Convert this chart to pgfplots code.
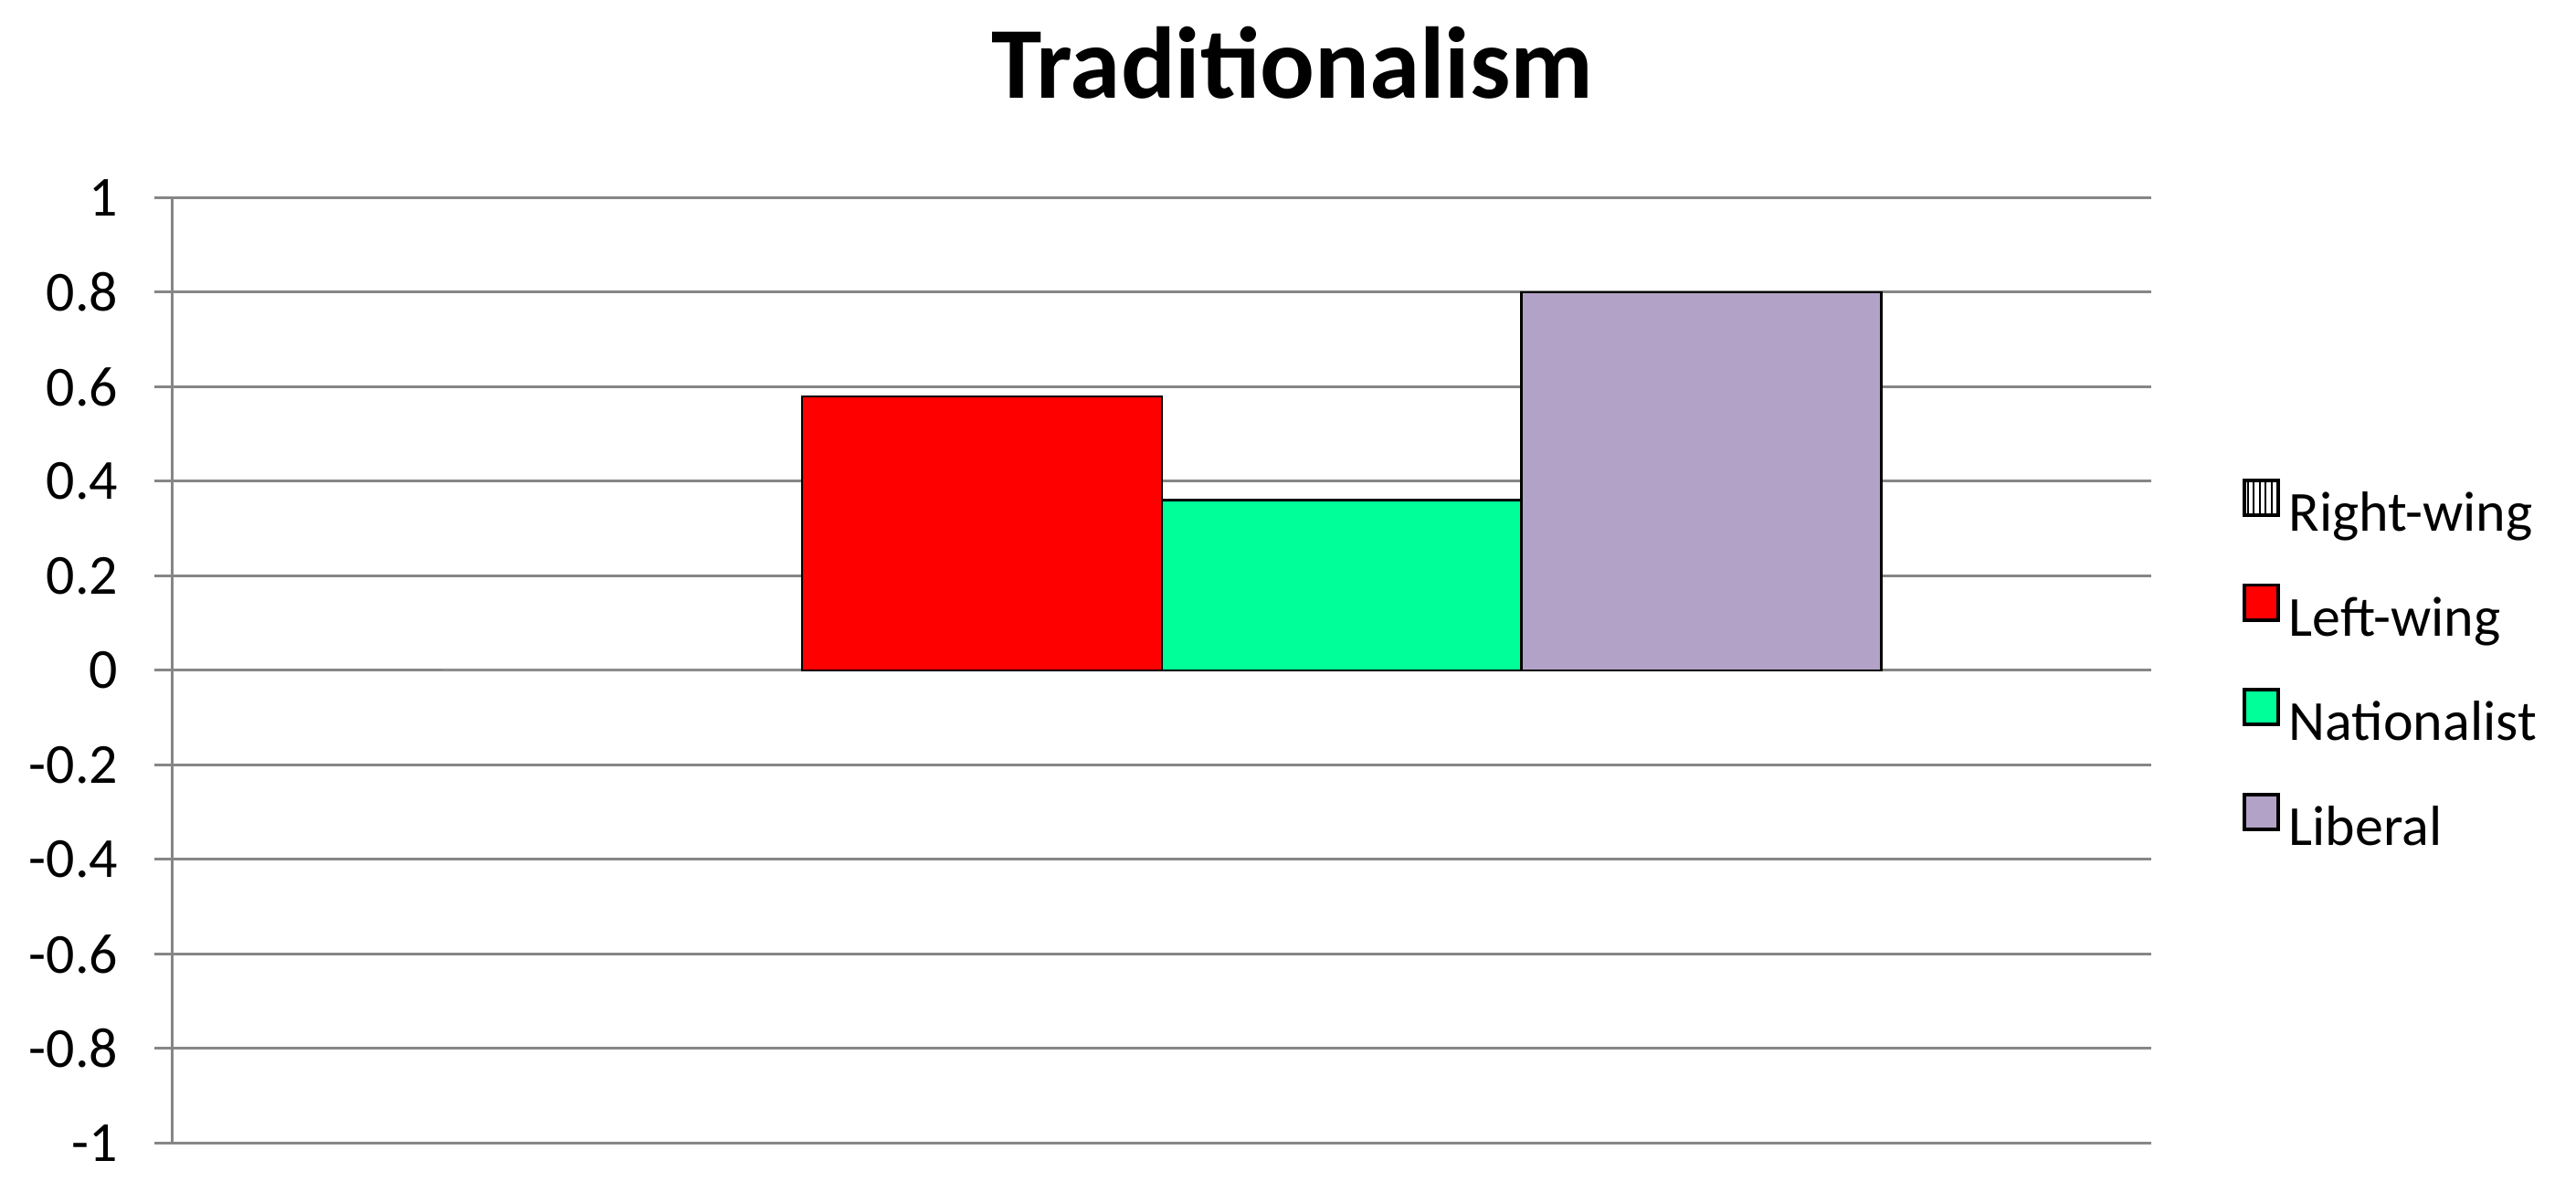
\documentclass[border=0pt]{standalone}
\usepackage{fontspec}
\setmainfont{Carlito}
\usepackage{pgfplots}
\pgfplotsset{compat=1.18}
\usetikzlibrary{patterns.meta}

\definecolor{gridgray}{HTML}{868686}
\definecolor{leftred}{HTML}{FF0000}
\definecolor{natgreen}{HTML}{00FF99}
\definecolor{libpurple}{HTML}{B3A2C7}

\begin{document}
\begin{tikzpicture}
\useasboundingbox (-1.34cm,-0.38cm) rectangle (18.66cm,8.875cm);
\begin{axis}[
    scale only axis,
    width=15.36cm, height=7.34cm,
    xmin=-0.5, xmax=0.5,
    ymin=-1, ymax=1,
    ytick={-1,-0.8,-0.6,-0.4,-0.2,0,0.2,0.4,0.6,0.8,1},
    axis x line=none,
    axis y line*=left,
    y axis line style={draw=gridgray, line width=0.6pt, -},
    ymajorgrids,
    grid style={draw=gridgray, line width=0.6pt},
    ytick style={draw=gridgray, line width=0.6pt},
    tick align=outside,
    major tick length=0.14cm,
    yticklabel style={font=\fontsize{12.5}{15}\selectfont, xshift=-0.16cm},
    /pgf/number format/assume math mode=true,
    ybar, bar width=0.1818, bar shift=0pt,
    legend style={at={(1,0.5)}, anchor=west, xshift=0.6cm, draw=none, fill=none,
        font=\fontsize{12.5}{15}\selectfont, row sep=8pt},
    legend cell align=left,
    legend image code/.code={\draw[#1, line width=0.8pt] (0cm,0cm) rectangle (0.26cm,0.27cm);},
]
\addplot[draw=none, fill=white,
    legend image code/.code={\draw[black, line width=0.8pt, pattern={Lines[angle=90, distance=1.3pt, line width=0.4pt]}] (0cm,0cm) rectangle (0.26cm,0.27cm);}]
    coordinates {(-0.2727,0)};
\addplot[draw=black, line width=0.5pt, fill=leftred] coordinates {(-0.0909,0.58)};
\addplot[draw=black, line width=0.5pt, fill=natgreen] coordinates {(0.0909,0.36)};
\addplot[draw=black, line width=0.5pt, fill=libpurple] coordinates {(0.2727,0.80)};
\legend{Right-wing, Left-wing, Nationalist, Liberal}
\end{axis}
% chart title, centred on the whole chart
\node[anchor=base, inner sep=0pt, font=\fontsize{22.5}{27}\selectfont\bfseries]
    at (8.694cm,8.11cm) {Traditionalism};
\end{tikzpicture}
\end{document}
